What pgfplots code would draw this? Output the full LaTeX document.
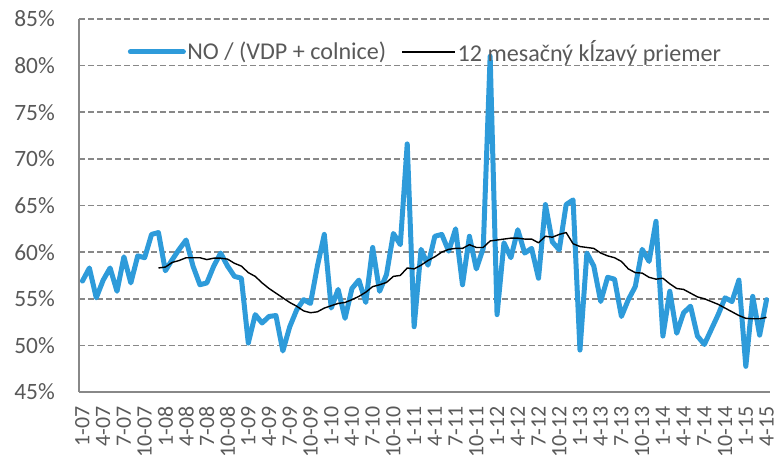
\documentclass[border=0pt]{standalone}
\usepackage{fontspec}
\setmainfont{Carlito}
\usepackage{pgfplots}
\usepackage{pgfplotstable}
\pgfplotsset{compat=1.18}
\definecolor{lineblue}{RGB}{46,155,218}
\definecolor{txtgray}{RGB}{89,89,89}
\definecolor{gridgray}{RGB}{136,136,136}
\pgfplotstableread{
m v
0 56.9
1 58.3
2 55.1
3 57.0
4 58.3
5 55.8
6 59.5
7 56.7
8 59.6
9 59.4
10 61.9
11 62.1
12 58.0
13 59.2
14 60.3
15 61.3
16 58.5
17 56.5
18 56.7
19 58.5
20 59.9
21 58.5
22 57.4
23 57.2
24 50.25
25 53.3
26 52.4
27 53.1
28 53.2
29 49.4
30 52.0
31 53.8
32 54.9
33 54.5
34 58.5
35 61.9
36 54.0
37 56.0
38 52.9
39 56.1
40 57.0
41 54.6
42 60.5
43 55.8
44 57.6
45 62.0
46 60.8
47 71.6
48 52.0
49 60.3
50 58.6
51 61.7
52 61.9
53 60.1
54 62.5
55 56.5
56 61.7
57 58.2
58 60.4
59 81.0
60 53.3
61 61.0
62 59.4
63 62.4
64 59.9
65 60.4
66 57.2
67 65.1
68 61.1
69 60.25
70 65.1
71 65.6
72 49.5
73 59.9
74 58.5
75 54.7
76 57.3
77 57.1
78 53.1
79 54.9
80 56.3
81 60.3
82 59.0
83 63.3
84 51.0
85 55.8
86 51.3
87 53.5
88 54.2
89 51.0
90 50.1
91 51.7
92 53.3
93 55.1
94 54.7
95 57.0
96 47.75
97 55.25
98 51.1
99 54.9
}\rawdata
\pgfplotstableread{
m v
11 58.3
12 58.4
13 58.9
14 59.1
15 59.4
16 59.4
17 59.4
18 59.2
19 59.35
20 59.35
21 59.25
22 58.8
23 58.5
24 57.8
25 57.4
26 56.7
27 56.1
28 55.6
29 55.1
30 54.6
31 54.2
32 53.7
33 53.5
34 53.6
35 54.0
36 54.25
37 54.5
38 54.6
39 54.9
40 55.25
41 55.7
42 56.3
43 56.5
44 56.75
45 57.4
46 57.5
47 58.3
48 58.2
49 58.6
50 59.1
51 59.5
52 60.0
53 60.3
54 60.4
55 60.4
56 60.8
57 60.5
58 60.5
59 61.2
60 61.3
61 61.4
62 61.5
63 61.5
64 61.4
65 61.4
66 61.0
67 61.7
68 61.6
69 61.9
70 62.1
71 60.9
72 60.6
73 60.5
74 60.4
75 59.9
76 59.6
77 59.4
78 59.0
79 58.2
80 57.8
81 57.75
82 57.3
83 57.1
84 57.2
85 56.6
86 56.1
87 56.0
88 55.6
89 55.2
90 55.0
91 54.7
92 54.4
93 54.0
94 53.6
95 53.2
96 52.9
97 52.85
98 52.85
99 53.0
}\madata
\begin{document}
\begin{tikzpicture}
\useasboundingbox (-79bp,-72bp) rectangle (697bp,392bp);
\begin{axis}[
  at={(0,0)}, anchor=south west,
  scale only axis, width=691bp, height=373bp,
  xmin=-0.5, xmax=99.5, ymin=45, ymax=85,
  axis x line=bottom, axis y line=left,
  axis line style={-, draw=gridgray, line width=1.5bp},
  major tick length=0pt,
  ytick={45,50,...,85},
  yticklabels={45\%,50\%,55\%,60\%,65\%,70\%,75\%,80\%,85\%},
  xtick={0,3,...,99},
  xticklabels={1-07,4-07,7-07,10-07,1-08,4-08,7-08,10-08,1-09,4-09,7-09,10-09,1-10,4-10,7-10,10-10,1-11,4-11,7-11,10-11,1-12,4-12,7-12,10-12,1-13,4-13,7-13,10-13,1-14,4-14,7-14,10-14,1-15,4-15},
  ticklabel style={text=txtgray, inner sep=0pt},
  yticklabel style={font=\fontsize{23.5}{28}\selectfont, anchor=east, xshift=-24bp},
  xticklabel style={font=\fontsize{22}{26}\selectfont, yshift=-14bp, rotate=90, anchor=east},
  ymajorgrids,
  grid style={draw=gridgray, line width=1.5bp, dash pattern=on 6bp off 3bp},
  legend columns=2,
  legend style={draw=none, fill=none, at={(0.501,0.912)}, anchor=center,
    font=\fontsize{24.2}{29}\selectfont, text=txtgray,
    /tikz/every even column/.append style={column sep=14bp},
    nodes={inner sep=1.5bp}},
  legend image code/.code={\draw[#1] (0bp,0bp) -- (53bp,0bp);},
]
\addplot[color=lineblue, line width=5bp, line join=round, line cap=round] table[x=m,y=v] {\rawdata};
\addlegendentry{NO / (VDP + colnice)}
\addplot[color=black, line width=1.4bp, line join=round] table[x=m,y=v] {\madata};
\addlegendentry{12 mesačný kĺzavý priemer}
\end{axis}
\end{tikzpicture}
\end{document}
